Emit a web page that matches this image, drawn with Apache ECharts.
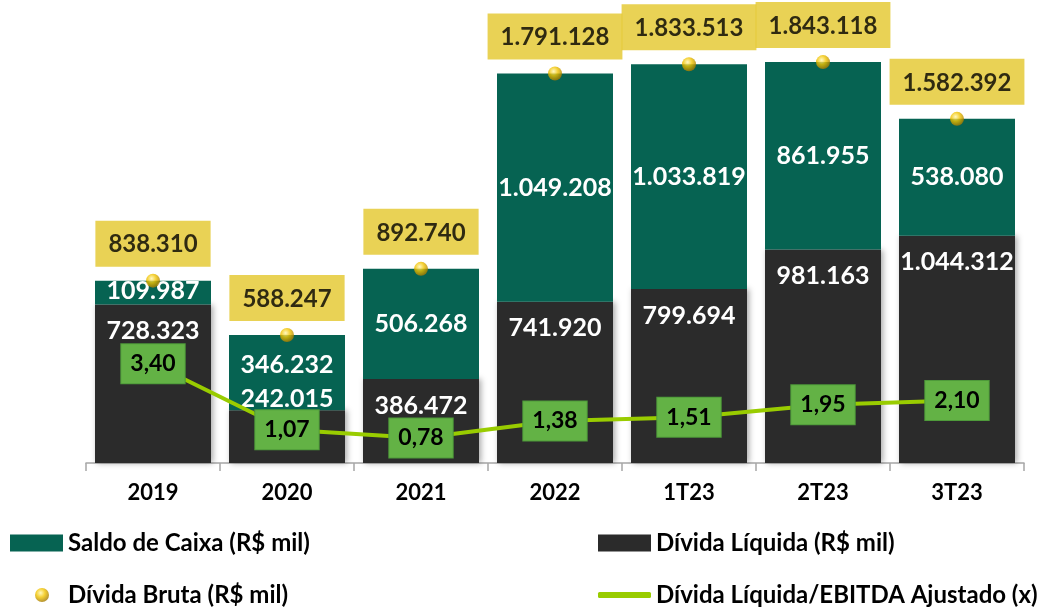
<!DOCTYPE html>
<html>
<head>
<meta charset="utf-8">
<script src="https://cdn.jsdelivr.net/npm/echarts@6/dist/echarts.min.js"></script>
<style>
  html, body { margin: 0; padding: 0; background: #fff; }
  #chart { width: 1048px; height: 613px; }
</style>
</head>
<body>
<div id="chart"></div>
<script>
var categories = ['2019', '2020', '2021', '2022', '1T23', '2T23', '3T23']
var dividaLiquida = [728323, 242015, 386472, 741920, 799694, 981163, 1044312]
var saldoCaixa = [109987, 346232, 506268, 1049208, 1033819, 861955, 538080]
var dividaBruta = [838310, 588247, 892740, 1791128, 1833513, 1843118, 1582392]
var ratio = [3.40, 1.07, 0.78, 1.38, 1.51, 1.95, 2.10]

var FONT = 'Lato'

// 1.234.567
function fmt(v) {
  return String(Math.round(v)).replace(/\B(?=(\d{3})+(?!\d))/g, '.')
}
function fmtRatio(v) {
  return v.toFixed(2).replace('.', ',')
}

// ajustes manuais de rótulos (como no original)
var liquidaData = dividaLiquida.map(function (v, i) {
  var item = { value: v }
  if (i === 1) item.label = { offset: [0, -38] }
  return item
})
var caixaData = saldoCaixa.map(function (v, i) {
  var item = { value: v }
  if (i === 1) item.label = { offset: [0, -8] }
  if (i === 0) item.label = { offset: [0, -2] }
  return item
})

var goldBall = {
  type: 'radial', x: 0.4, y: 0.35, r: 0.7,
  colorStops: [
    { offset: 0, color: '#fff6b0' },
    { offset: 0.45, color: '#f2c400' },
    { offset: 1, color: '#9a7000' }
  ]
}

var legendText = { fontFamily: FONT, fontWeight: 'bold', fontSize: 24, color: '#000' }

var chart = echarts.init(document.getElementById('chart'))
var option = {
  animation: false,
  backgroundColor: '#fff',
  grid: { left: 86, right: 24, top: 28, bottom: 150 },
  legend: [
    { data: [{ name: 'Saldo de Caixa (R$ mil)', icon: 'rect' }], left: 5, top: 526, itemWidth: 53, itemHeight: 17, textStyle: legendText, selectedMode: false },
    { data: [{ name: 'Dívida Líquida (R$ mil)', icon: 'rect' }], left: 593, top: 526, itemWidth: 53, itemHeight: 17, textStyle: legendText, selectedMode: false },
    { data: [{ name: 'Dívida Bruta (R$ mil)', icon: 'circle' }], left: 30, top: 578, itemWidth: 14, itemHeight: 14, textStyle: Object.assign({ padding: [0, 0, 0, 14] }, legendText), selectedMode: false },
    { data: [{ name: 'Dívida Líquida/EBITDA Ajustado (x)', icon: 'roundRect' }], left: 593, top: 578, itemWidth: 53, itemHeight: 6, textStyle: legendText, selectedMode: false }
  ],
  xAxis: {
    type: 'category',
    data: categories,
    axisLine: { lineStyle: { color: '#a6a6a6', width: 1.5 } },
    axisTick: { show: true, length: 8, lineStyle: { color: '#a6a6a6', width: 1.5 } },
    axisLabel: { margin: 19, fontFamily: FONT, fontWeight: 'bold', fontSize: 22, color: '#000' }
  },
  yAxis: [
    { type: 'value', min: 0, max: 2000000, show: false, splitLine: { show: false } },
    { type: 'value', min: -0.106, max: 15.27, show: false, splitLine: { show: false } }
  ],
  series: [
    {
      name: 'Dívida Líquida (R$ mil)',
      type: 'bar',
      stack: 'total',
      barWidth: 116,
      data: liquidaData,
      itemStyle: { color: '#2b2b2b', shadowBlur: 6, shadowColor: 'rgba(0,0,0,0.35)', shadowOffsetX: 2 },
      label: {
        show: true, position: 'insideTop', distance: 14,
        formatter: function (p) { return fmt(p.value) },
        color: '#fff', fontFamily: FONT, fontWeight: 'bold', fontSize: 25
      }
    },
    {
      name: 'Saldo de Caixa (R$ mil)',
      type: 'bar',
      stack: 'total',
      barWidth: 116,
      data: caixaData,
      itemStyle: { color: '#066352' },
      label: {
        show: true, position: 'inside',
        formatter: function (p) { return fmt(p.value) },
        color: '#fff', fontFamily: FONT, fontWeight: 'bold', fontSize: 25
      }
    },
    {
      name: 'Dívida Bruta (R$ mil)',
      type: 'scatter',
      data: dividaBruta,
      symbol: 'circle',
      symbolSize: 14,
      z: 5,
      itemStyle: { color: goldBall },
      label: {
        show: true, position: 'top', distance: 7,
        formatter: function (p) { return fmt(p.value) },
        backgroundColor: '#e3c72a',
        padding: [12, 13, 10, 13],
        color: '#000', fontFamily: FONT, fontWeight: 'bold', fontSize: 24
      }
    },
    {
      name: 'Dívida Líquida/EBITDA Ajustado (x)',
      type: 'line',
      yAxisIndex: 1,
      data: ratio,
      symbol: 'circle',
      symbolSize: 1,
      z: 6,
      lineStyle: { color: '#99cc00', width: 4 },
      itemStyle: { color: '#99cc00' },
      label: {
        show: true, position: 'inside',
        formatter: function (p) { return fmtRatio(p.value) },
        backgroundColor: '#63b245',
        borderColor: '#4e9a3a', borderWidth: 1,
        padding: [9, 9, 7, 9],
        color: '#000', fontFamily: FONT, fontWeight: 'bold', fontSize: 23
      }
    }
  ]
}
chart.setOption(option)
</script>
</body>
</html>
